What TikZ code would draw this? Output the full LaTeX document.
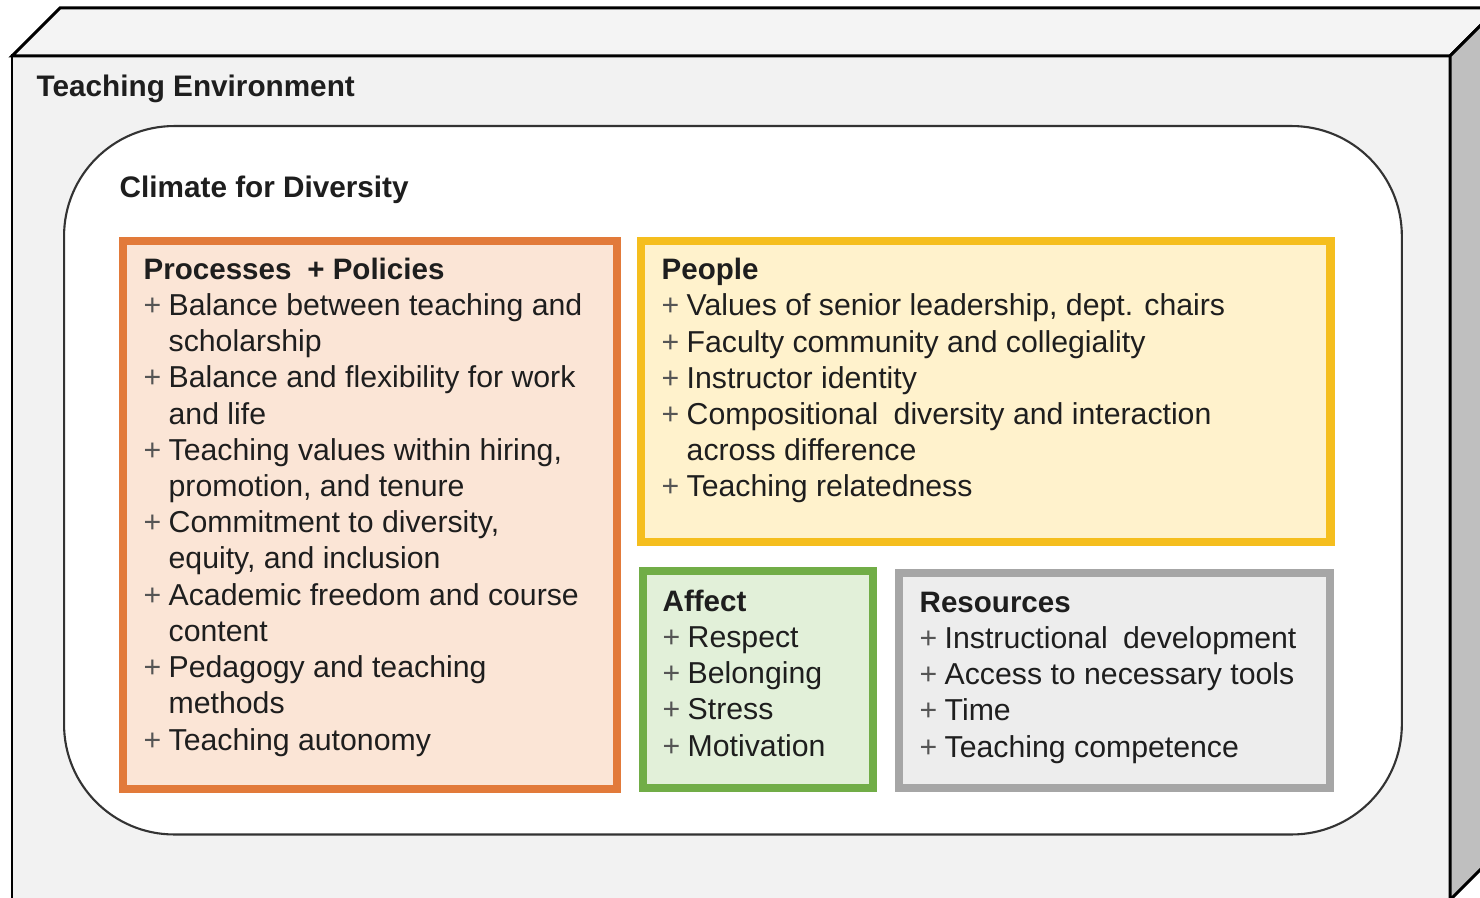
\documentclass[tikz,border=0pt]{standalone}
\usepackage{fontspec}
\setmainfont{Liberation Sans}
\usetikzlibrary{calc,positioning}

\definecolor{txtgray}{HTML}{1E1E1E}
\definecolor{plusgray}{HTML}{555555}
\definecolor{cubefront}{HTML}{F2F2F2}
\definecolor{cubetop}{HTML}{F4F4F4}
\definecolor{cubeside}{HTML}{BFBFBF}
\definecolor{procline}{HTML}{E27A3A}
\definecolor{procfill}{HTML}{FBE5D6}
\definecolor{peopline}{HTML}{F5BE1E}
\definecolor{peopfill}{HTML}{FFF2CC}
\definecolor{affline}{HTML}{71AD47}
\definecolor{afffill}{HTML}{E2F0D9}
\definecolor{resline}{HTML}{A6A6A6}
\definecolor{resfill}{HTML}{EDEDED}

\newcommand{\hdr}[1]{{\fontsize{8.4}{10.3}\selectfont\bfseries #1}}
\newcommand{\itm}[1]{\makebox[7.1pt][l]{\color{plusgray}+}#1}
\newcommand{\cnt}[1]{\hspace*{7.1pt}#1}

\begin{document}
\begin{tikzpicture}[x=0.01cm,y=-0.01cm,
    boxtext/.style={font=\fontsize{8.6}{10.3}\selectfont,text=txtgray,align=left,inner sep=0pt},
    title/.style={font=\fontsize{8.45}{10.3}\selectfont\bfseries,text=txtgray,inner sep=0pt},
    catbox/.style={draw=#1line,fill=#1fill,line width=2.3pt,rectangle,inner sep=0pt,anchor=north west}]
    \useasboundingbox (0,0) rectangle (1480,898);
    \clip (0,0) rectangle (1480,898);
    % the cube
    \draw[line width=0.85pt,fill=cubefront] (12,56) rectangle (1450,900);
    \draw[line width=0.85pt,fill=cubetop] (12,56) -- (60,8) -- (1498,8) -- (1450,56) -- cycle;
    \draw[line width=0.85pt,fill=cubeside] (1450,56) -- (1498,8) -- (1498,852) -- (1450,900) -- cycle;
    \node[title,anchor=base west] (envlabel) at (36,97) {Teaching Environment};
    % climate
    \node[draw=black!80,fill=white,line width=0.6pt,rectangle,rounded corners=1.1cm,inner sep=0pt,anchor=north west,
        minimum width=13.37cm,minimum height=7.08cm] (climate) at (63,125) {};
    \node[title,anchor=base west] (climlabel) at ($(climate.north west)+(56,73)$) {Climate for Diversity};
    % the four boxes (text hangs from its last baseline)
    \node[catbox=proc,minimum width=4.94cm,minimum height=5.48cm] (proc) at (119,237) {};
    \node[catbox=peop,minimum width=6.89cm,minimum height=3.01cm] (peop) at (637,237) {};
    \node[catbox=aff,minimum width=2.30cm,minimum height=2.17cm] (aff) at (639,567) {};
    \node[catbox=res,minimum width=4.31cm,minimum height=2.15cm] (res) at (895,569) {};
    \node[boxtext,anchor=base west] (proctext) at ($(proc.north west)+(24,513)$) {\hdr{Processes\hspace{4.5pt}+ Policies}\\
        \itm{Balance between teaching and}\\
        \cnt{scholarship}\\
        \itm{Balance and flexibility for work}\\
        \cnt{and life}\\
        \itm{Teaching values within hiring,}\\
        \cnt{promotion, and tenure}\\
        \itm{Commitment to diversity,}\\
        \cnt{equity, and inclusion}\\
        \itm{Academic freedom and course}\\
        \cnt{content}\\
        \itm{Pedagogy and teaching}\\
        \cnt{methods}\\
        \itm{Teaching autonomy}};
    \node[boxtext,anchor=base west] (peoptext) at ($(peop.north west)+(24,260)$) {\hdr{People}\\
        \itm{Values of senior leadership, dept. chairs}\\
        \itm{Faculty community and collegiality}\\
        \itm{Instructor identity}\\
        \itm{Compositional\hspace{2pt} diversity and interaction}\\
        \cnt{across difference}\\
        \itm{Teaching relatedness}};
    \node[boxtext,anchor=base west] (afftext) at ($(aff.north west)+(23,189)$) {\hdr{Affect}\\
        \itm{Respect}\\
        \itm{Belonging}\\
        \itm{Stress}\\
        \itm{Motivation}};
    \node[boxtext,anchor=base west] (restext) at ($(res.north west)+(24,188)$) {\hdr{Resources}\\
        \itm{Instructional\hspace{2pt} development}\\
        \itm{Access to necessary tools}\\
        \itm{Time}\\
        \itm{Teaching competence}};
\end{tikzpicture}
\end{document}
